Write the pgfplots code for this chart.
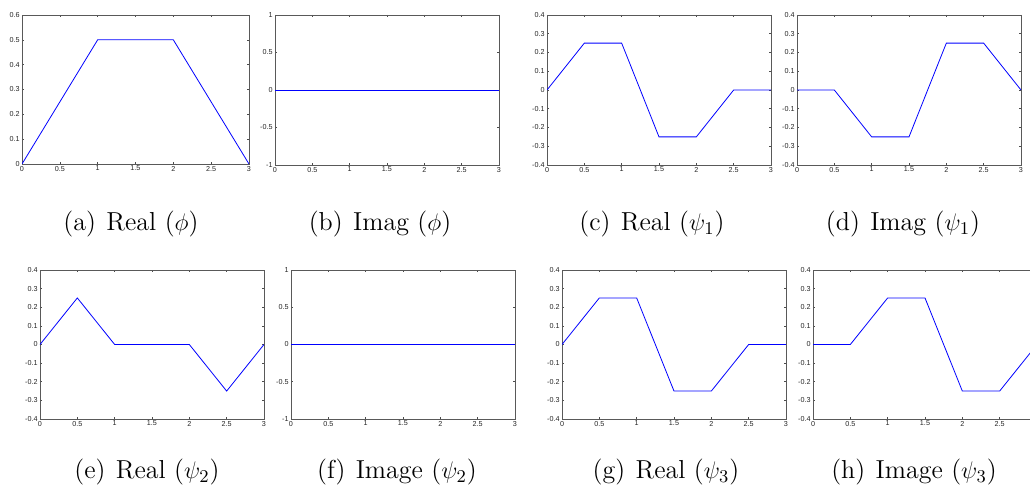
\documentclass[border=0pt]{standalone}
\usepackage{fontspec}
\usepackage{pgfplots}
\pgfplotsset{compat=1.18}
\newfontfamily\tickfont{Liberation Sans}

% one matlab-like panel, placed in pixel units (1px = 0.5pt)
\pgfplotsset{
  panel/.style={
    scale only axis, anchor=south west,
    width=112pt, height=74.5pt,
    xmin=0, xmax=3,
    xtick={0,0.5,1,1.5,2,2.5,3},
    xticklabels={0,0.5,1,1.5,2,2.5,3},
    tick align=inside, major tick length=1.2pt,
    tick style={black!70, line width=0.3pt},
    axis line style={black!65, line width=0.45pt},
    ticklabel style={font=\tickfont\fontsize{3.6}{4}\selectfont, text=black!85},
    xticklabel style={inner sep=0.8pt},
    yticklabel style={inner sep=1pt},
    no markers,
    cycle list={{blue, line width=0.45pt}},
  },
  yq/.style={ymin=-0.4, ymax=0.4,
    ytick={-0.4,-0.3,-0.2,-0.1,0,0.1,0.2,0.3,0.4},
    yticklabels={-0.4,-0.3,-0.2,-0.1,0,0.1,0.2,0.3,0.4}},
  yone/.style={ymin=-1, ymax=1,
    ytick={-1,-0.5,0,0.5,1},
    yticklabels={-1,-0.5,0,0.5,1}},
}
\newcommand{\subcap}[1]{\fontsize{13}{15}\selectfont #1}

\begin{document}
\begin{tikzpicture}[x=0.5pt, y=-0.5pt]
\useasboundingbox (0,0) rectangle (1030,492);
\clip (0,0) rectangle (1030,492);

% lower-left corners of the panels
\coordinate (pa) at (22,164);
\coordinate (pb) at (275,165);
\coordinate (pc) at (547,165);
\coordinate (pd) at (797,165);
\coordinate (pe) at (40,419);
\coordinate (pf) at (291,419);
\coordinate (pg) at (562,419);
\coordinate (ph) at (813,419);

% (a)
\begin{axis}[panel, at={(pa)}, width=113.5pt,
  ymin=0, ymax=0.6, ytick={0,0.1,0.2,0.3,0.4,0.5,0.6},
  yticklabels={0,0.1,0.2,0.3,0.4,0.5,0.6}]
\addplot coordinates {(0,0) (1,0.5) (2,0.5) (3,0)};
\end{axis}

% (b)
\begin{axis}[panel, yone, at={(pb)}, height=75pt]
\addplot coordinates {(0,0) (3,0)};
\end{axis}

% (c)
\begin{axis}[panel, yq, at={(pc)}, height=75pt]
\addplot coordinates {(0,0) (0.5,0.25) (1,0.25) (1.5,-0.25) (2,-0.25) (2.5,0) (3,0)};
\end{axis}

% (d)
\begin{axis}[panel, yq, at={(pd)}, height=75pt]
\addplot coordinates {(0,0) (0.5,0) (1,-0.25) (1.5,-0.25) (2,0.25) (2.5,0.25) (3,0)};
\end{axis}

% (e)
\begin{axis}[panel, yq, at={(pe)}]
\addplot coordinates {(0,0) (0.5,0.25) (1,0) (2,0) (2.5,-0.25) (3,0)};
\end{axis}

% (f)
\begin{axis}[panel, yone, at={(pf)}]
\addplot coordinates {(0,0) (3,0)};
\end{axis}

% (g)
\begin{axis}[panel, yq, at={(pg)}]
\addplot coordinates {(0,0) (0.5,0.25) (1,0.25) (1.5,-0.25) (2,-0.25) (2.5,0) (3,0)};
\end{axis}

% (h) runs past the right edge
\begin{axis}[panel, yq, at={(ph)}]
\addplot coordinates {(0,0) (0.5,0) (1,0.25) (1.5,0.25) (2,-0.25) (2.5,-0.25) (3,0)};
\end{axis}

% sub-captions
\node[anchor=base] at (131,231) {\subcap{(a)\hspace{0.4em}Real ($\phi$)}};
\node[anchor=base] at (380,231) {\subcap{(b)\hspace{0.4em}Imag ($\phi$)}};
\node[anchor=base] at (652,231) {\subcap{(c)\hspace{0.4em}Real ($\psi_1$)}};
\node[anchor=base] at (903,231) {\subcap{(d)\hspace{0.4em}Imag ($\psi_1$)}};
\node[anchor=base] at (147,479) {\subcap{(e)\hspace{0.4em}Real ($\psi_2$)}};
\node[anchor=base] at (397,479) {\subcap{(f)\hspace{0.4em}Image ($\psi_2$)}};
\node[anchor=base] at (666,479) {\subcap{(g)\hspace{0.4em}Real ($\psi_3$)}};
\node[anchor=base] at (914,479) {\subcap{(h)\hspace{0.4em}Image ($\psi_3$)}};
\end{tikzpicture}
\end{document}
